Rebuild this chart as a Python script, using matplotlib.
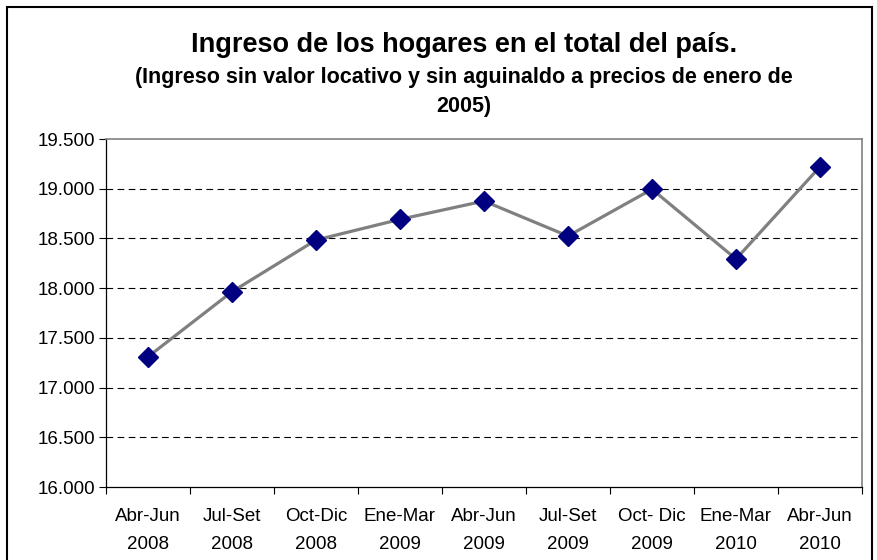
import matplotlib.pyplot as plt
from matplotlib.patches import Rectangle
from matplotlib.ticker import FuncFormatter

plt.rcParams['font.family'] = ['Liberation Sans', 'DejaVu Sans']

periods = ["Abr-Jun\n2008", "Jul-Set\n2008", "Oct-Dic\n2008", "Ene-Mar\n2009",
           "Abr-Jun\n2009", "Jul-Set\n2009", "Oct- Dic\n2009", "Ene-Mar\n2010",
           "Abr-Jun\n2010"]
ingreso = [17310, 17964, 18484, 18692, 18876, 18524, 18995, 18293, 19221]
y_ticks = [16000, 16500, 17000, 17500, 18000, 18500, 19000, 19500]

fig = plt.figure(figsize=(8.78, 5.6), dpi=100)
ax = fig.add_axes([106 / 878, 73 / 560, 756 / 878, 348 / 560])

x = list(range(len(ingreso)))
ax.plot(x, ingreso, color='#808080', linewidth=2.3, marker='D', markersize=10.5,
        markerfacecolor='#000080', markeredgecolor='#000080', zorder=3)

ax.set_xlim(-0.5, len(ingreso) - 0.5)
ax.set_ylim(16000, 19500)
ax.set_yticks(y_ticks)
ax.yaxis.set_major_formatter(FuncFormatter(lambda v, p: f"{int(v):,}".replace(",", ".")))
ax.tick_params(axis='y', labelsize=13.5, length=5, width=0.8, direction='out', pad=3)

# category labels between boundary ticks
ax.set_xticks([i + 0.5 for i in range(-1, len(ingreso))])
ax.set_xticklabels([])
ax.set_xticks(x, minor=True)
ax.set_xticklabels(periods, minor=True, fontsize=13.5, linespacing=1.85)
ax.tick_params(axis='x', which='major', length=5, width=0.8, direction='out')
ax.tick_params(axis='x', which='minor', length=0, pad=15)

for v in y_ticks[1:-1]:
    ax.axhline(v, color='black', linewidth=0.8, linestyle=(0, (6, 4)), zorder=1)

for side in ['top', 'right']:
    ax.spines[side].set_color('#808080')
    ax.spines[side].set_linewidth(1.2)
for side in ['left', 'bottom']:
    ax.spines[side].set_color('black')
    ax.spines[side].set_linewidth(0.9)

fig.text(0.528, 1 - 52 / 560, "Ingreso de los hogares en el total del país.",
         ha='center', va='baseline', fontsize=19.5, fontweight='bold')
fig.text(0.528, 1 - 83 / 560, "(Ingreso sin valor locativo y sin aguinaldo a precios de enero de",
         ha='center', va='baseline', fontsize=15.5, fontweight='bold')
fig.text(0.528, 1 - 112 / 560, "2005)",
         ha='center', va='baseline', fontsize=15.5, fontweight='bold')

# outer chart frame
fig.patches.append(Rectangle((7 / 878, -0.05), 865 / 878, 1.0 - 7 / 560 + 0.05,
                             transform=fig.transFigure, fill=False,
                             edgecolor='black', linewidth=1.5))

fig.savefig("out.png", dpi=100)
